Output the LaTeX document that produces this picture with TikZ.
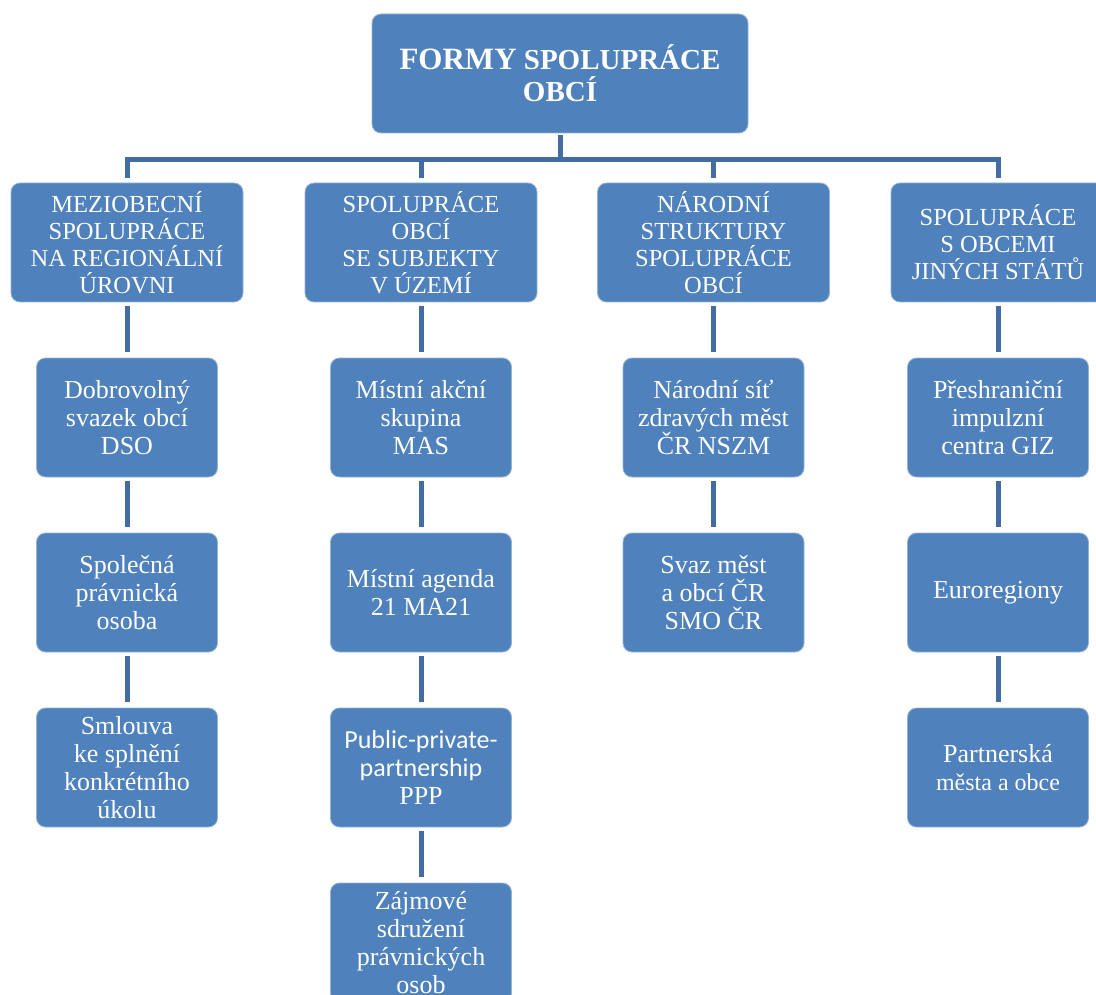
\documentclass[tikz,border=0pt]{standalone}
\usepackage{fontspec}
\setmainfont{Liberation Serif}
\newfontfamily\carlito{Carlito}
\usepackage{tikz}
\usetikzlibrary{positioning}
\definecolor{boxblue}{RGB}{79,129,189}
\definecolor{linkblue}{RGB}{66,108,162}
\begin{document}
\begin{tikzpicture}[x=1pt,y=-1pt, every node/.style={text=white,align=center}]
    \tikzset{box/.style={draw=white!40!boxblue,line width=0.8pt,fill=boxblue,rounded corners=9pt,inner sep=2pt}}
    \tikzset{head/.style={box,minimum width=232pt,minimum height=119pt,font=\fontsize{24.5}{27}\selectfont}}
    \tikzset{item/.style={box,minimum width=181pt,minimum height=119pt,font=\fontsize{26}{28}\selectfont}}
    \tikzset{link/.style={draw=linkblue,line width=5pt}}
    \clip (0,0) rectangle (1096,995);

    % Top
    \node[box,minimum width=376pt,minimum height=119pt,font=\bfseries\fontsize{29}{32}\selectfont] (top) at (560,73.5)
        {{\fontsize{31}{32}\selectfont FORMY} SPOLUPRÁCE\\OBCÍ};
    \coordinate (bar) at (560,159.5);

    % Headers
    \node[head] (h1) at (127,242.5) {MEZIOBECNÍ\\SPOLUPRÁCE\\NA REGIONÁLNÍ\\ÚROVNI};
    \node[head] (h2) at (421,242.5) {SPOLUPRÁCE\\OBCÍ\\SE SUBJEKTY\\V ÚZEMÍ};
    \node[head] (h3) at (713.5,242.5) {NÁRODNÍ\\STRUKTURY\\SPOLUPRÁCE\\OBCÍ};
    \node[head,minimum width=214pt] (h4) at (998,242.5) {SPOLUPRÁCE\\S OBCEMI\\JINÝCH STÁTŮ};

    % Column 1
    \node[item] (dso) at (127,417.5) {Dobrovolný\\svazek obcí\\DSO};
    \node[item] (spo) at (127,592.5) {Společná\\právnická\\osoba};
    \node[item] (sml) at (127,767.5) {Smlouva\\ke splnění\\konkrétního\\úkolu};

    % Column 2
    \node[item] (mas) at (421,417.5) {Místní akční\\skupina\\MAS};
    \node[item] (ma21) at (421,592.5) {Místní agenda\\21 MA21};
    \node[item] (ppp) at (421,767.5) {{\carlito Public-private-}\\{\carlito partnership}\\PPP};
    \node[item] (zsp) at (421,942.5) {Zájmové\\sdružení\\právnických\\osob};

    % Column 3
    \node[item] (nszm) at (713.5,417.5) {Národní síť\\zdravých měst\\ČR NSZM};
    \node[item] (smo) at (713.5,592.5) {Svaz měst\\a obcí ČR\\SMO ČR};

    % Column 4
    \node[item] (giz) at (998,417.5) {Přeshraniční\\impulzní\\centra GIZ};
    \node[item] (euro) at (998,592.5) {Euroregiony};
    \node[item] (partner) at (998,767.5) {Partnerská\\{\fontsize{24}{25}\selectfont města a obce}};

    % Tree links
    \foreach \h in {h1,h2,h3,h4}{
        \draw[link,shorten <=2pt,shorten >=5pt] (top.south) -- (bar) -| (\h.north);
    }
    \foreach \a/\b in {h1/dso,dso/spo,spo/sml,h2/mas,mas/ma21,ma21/ppp,ppp/zsp,h3/nszm,nszm/smo,h4/giz,giz/euro,euro/partner}{
        \draw[link,shorten <=4pt,shorten >=6pt] (\a.south) -- (\b.north);
    }
\end{tikzpicture}
\end{document}
